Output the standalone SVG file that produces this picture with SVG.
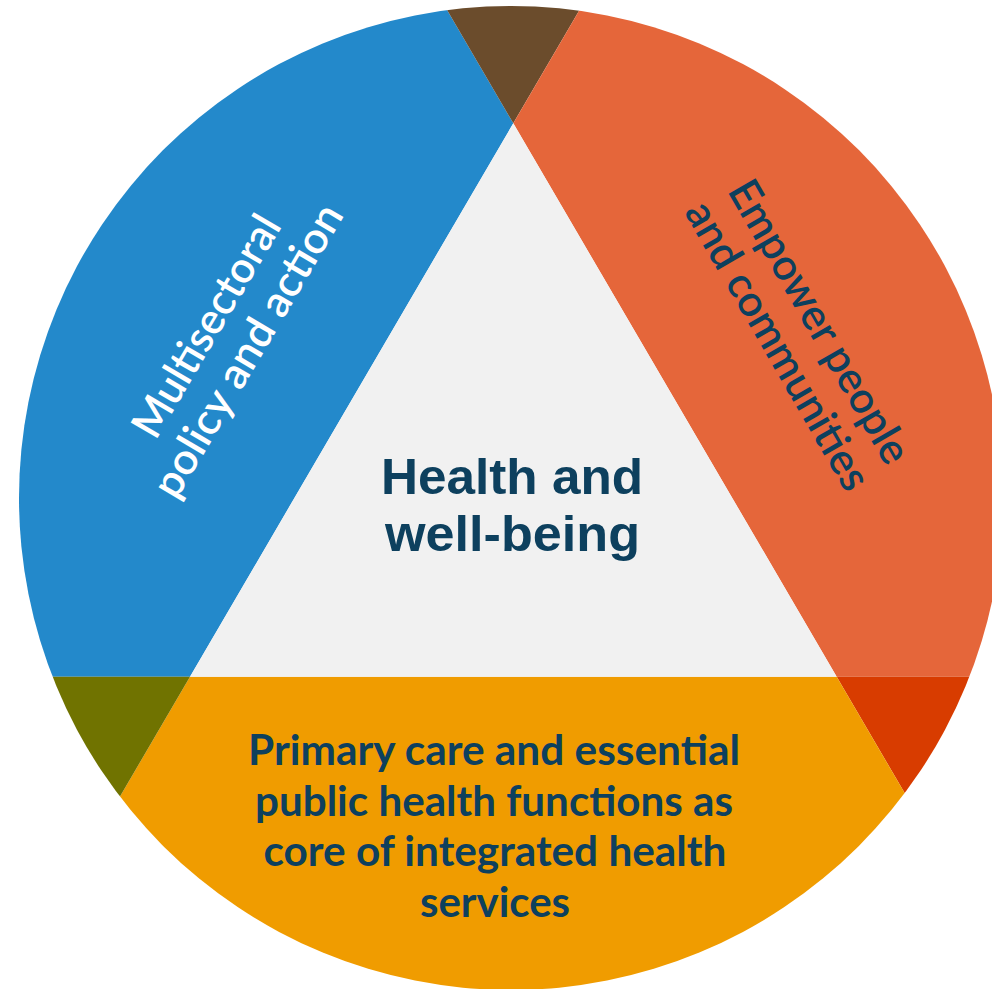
<svg xmlns="http://www.w3.org/2000/svg" width="992" height="989" viewBox="0 0 992 989">
<defs>
<clipPath id="circ"><circle cx="511" cy="498" r="492"/></clipPath>
<style>
.lbl{font-family:"Lato","Liberation Sans",sans-serif;text-anchor:middle}
.ctr{font-family:"Liberation Sans","Lato",sans-serif;text-anchor:middle}
.dark{fill:#0D405E}
.white{fill:#FFFFFF}
.b{font-weight:700}
.sb{font-weight:600}
</style>
</defs>
<rect width="992" height="989" fill="#FFFFFF"/>
<g clip-path="url(#circ)">
<g id="multisectoral"><polygon points="513.3,123.3 351.6,-153.4 -100,-153.4 -100,676.7 190,676.7" fill="#2389CB"/></g>
<g id="wedge-top"><polygon points="513.3,123.3 351.6,-153.4 675,-153.4" fill="#6B4C2C"/></g>
<g id="empower"><polygon points="513.3,123.3 675,-153.4 1100,-153.4 1100,676.7 836.7,676.7" fill="#E5663A"/></g>
<g id="wedge-right"><polygon points="836.7,676.7 1200,676.7 1160,1230" fill="#D83C00"/></g>
<g id="primary"><polygon points="190,676.7 836.7,676.7 1160,1230 -133.3,1230" fill="#F09C00"/></g>
<g id="wedge-left"><polygon points="190,676.7 -200,676.7 -133.3,1230" fill="#707300"/></g>
</g>
<g id="health"><polygon points="513.3,123.3 190,676.7 836.7,676.7" fill="#F1F1F1"/></g>
<g id="texts">
<text class="ctr dark b" font-size="50" x="512" y="494" textLength="262" lengthAdjust="spacingAndGlyphs">Health and</text>
<text class="ctr dark b" font-size="50" x="512.5" y="550.5" textLength="255" lengthAdjust="spacingAndGlyphs">well-being</text>
<text class="lbl dark b" font-size="42" x="494" y="765" textLength="492" lengthAdjust="spacingAndGlyphs">Primary care and essential</text>
<text class="lbl dark b" font-size="42" x="494" y="815.7" textLength="478" lengthAdjust="spacingAndGlyphs">public health functions as</text>
<text class="lbl dark b" font-size="42" x="495" y="866.4" textLength="463" lengthAdjust="spacingAndGlyphs">core of integrated health</text>
<text class="lbl dark b" font-size="42" x="495" y="917" textLength="150" lengthAdjust="spacingAndGlyphs">services</text>
<g transform="translate(219,333.5) rotate(-59.5)">
<text class="lbl white sb" font-size="43" x="0" y="0" textLength="250" lengthAdjust="spacingAndGlyphs">Multisectoral</text>
<text class="lbl white sb" font-size="43" x="0" y="48" textLength="332" lengthAdjust="spacingAndGlyphs">policy and action</text>
</g>
<g transform="translate(806.7,329) rotate(60)">
<text class="lbl dark sb" font-size="43" x="0" y="0" textLength="320" lengthAdjust="spacingAndGlyphs">Empower people</text>
<text class="lbl dark sb" font-size="43" x="0" y="48" textLength="326" lengthAdjust="spacingAndGlyphs">and communities</text>
</g>
</g>
</svg>
